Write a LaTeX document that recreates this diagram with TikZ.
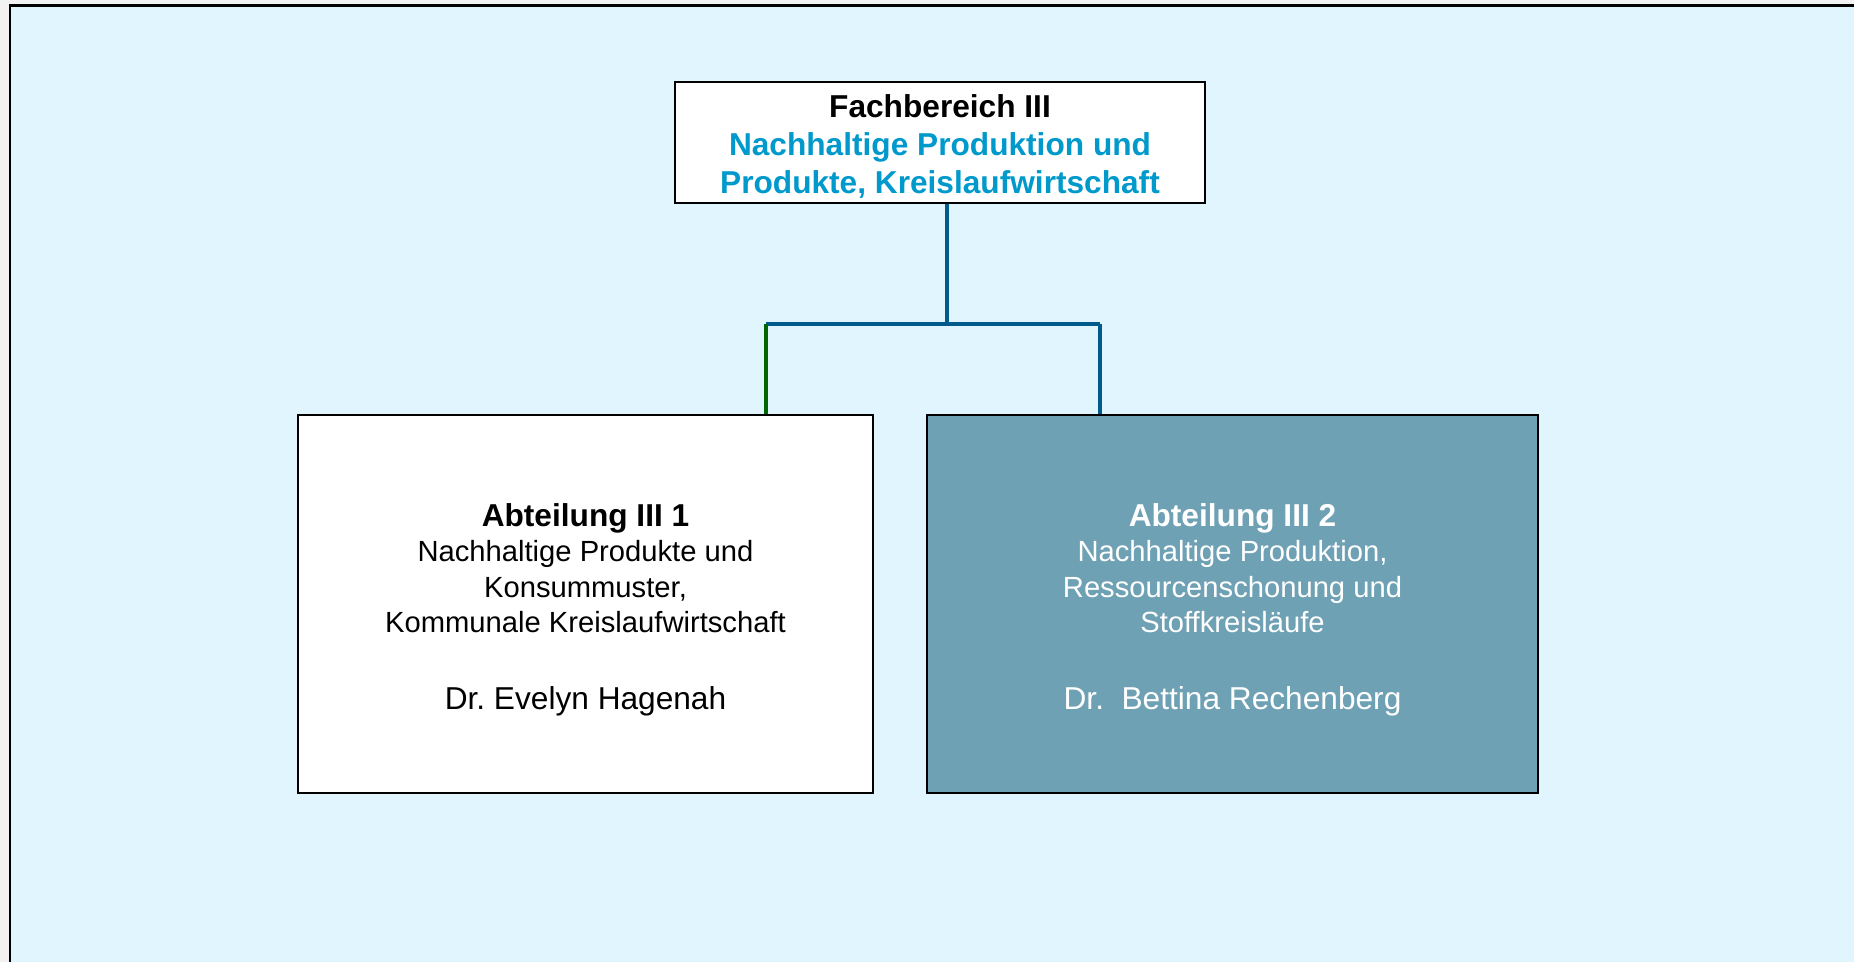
\documentclass[tikz,border=0pt]{standalone}
\usepackage{fontspec}
\setmainfont{Liberation Sans}
\definecolor{hintergrund}{HTML}{E0F5FD}
\definecolor{titelblau}{RGB}{0,153,204}
\definecolor{linienblau}{RGB}{0,90,140}
\definecolor{liniengruen}{RGB}{0,102,0}
\definecolor{kastenblau}{RGB}{111,161,181}

\begin{document}
\begin{tikzpicture}[x=0.01cm,y=-0.01cm,
  kasten/.style={draw=black,line width=0.7pt,inner sep=0pt,minimum width=5.75cm,minimum height=3.78cm},
  kastentext/.style={align=center,inner sep=0pt,font=\fontsize{8.3}{10.1}\selectfont},
  linie/.style={line width=1.4pt,draw=linienblau}]
  \useasboundingbox (0,0) rectangle (1854,962);
  \fill[gray!10] (0,0) rectangle (1854,962);
  \begin{scope}
    \clip (0,0) rectangle (1854,962);
    \filldraw[fill=hintergrund,draw=black,line width=0.85pt] (10,6) rectangle (1900,1000);
  \end{scope}
  \node[draw=black,line width=0.7pt,fill=white,inner sep=0pt,minimum width=5.3cm,minimum height=1.21cm]
    (fb) at (940,142.5) {};
  \node[align=center,inner sep=0pt,font=\fontsize{9}{10.9}\selectfont\bfseries] (fbtext) at (940,146.5)
    {Fachbereich III\\\textcolor{titelblau}{Nachhaltige Produktion und}\\
    \textcolor{titelblau}{Produkte, Kreislaufwirtschaft}};
  \node[kasten,fill=white] (abt1) at (585.5,604) {};
  \node[kastentext] (abt1text) at (585.5,609.5) {{\fontsize{9}{10.1}\selectfont\bfseries Abteilung III 1}\\
    Nachhaltige Produkte und\\Konsummuster,\\Kommunale Kreislaufwirtschaft\\[11.7pt]
    {\fontsize{9}{10.1}\selectfont Dr.\ Evelyn Hagenah}};
  \node[kasten,fill=kastenblau,minimum width=6.11cm] (abt2) at (1232.5,604) {};
  \node[kastentext,text=white] (abt2text) at (1232.5,609.5) {{\fontsize{9}{10.1}\selectfont\bfseries Abteilung III 2}\\
    Nachhaltige Produktion,\\Ressourcenschonung und\\Stoffkreisläufe\\[11.7pt]
    {\fontsize{9}{10.1}\selectfont Dr.\ \ Bettina Rechenberg}};
  \coordinate (knoten) at (947,324);
  \coordinate (links) at (766,324);
  \coordinate (rechts) at (1100,324);
  \draw[linie] (fb.south -| knoten) -- (knoten);
  \draw[linie] (links) -- (rechts);
  \draw[linie,draw=liniengruen] (links) -- (links |- abt1.north);
  \draw[linie] (rechts) -- (rechts |- abt2.north);
\end{tikzpicture}
\end{document}
